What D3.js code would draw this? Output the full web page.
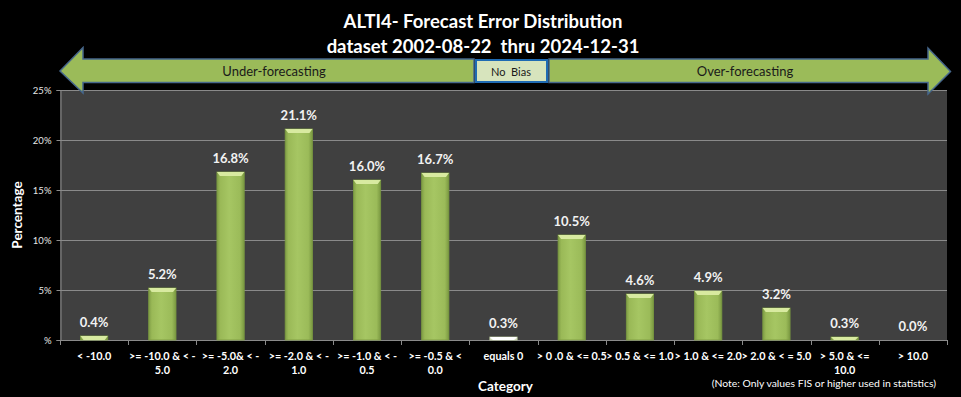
<!DOCTYPE html>
<html>
<head>
<meta charset="utf-8">
<script src="https://cdn.jsdelivr.net/npm/d3@7"></script>
<style>
  html, body { margin: 0; padding: 0; background: #000; }
  svg { display: block; }
  text { font-family: Lato, "Open Sans", sans-serif; }
</style>
</head>
<body>
<div id="chart"></div>
<script>
// ---- data ----
const categories = [
  "< -10.0",
  ">= -10.0 & < -\n5.0",
  ">= -5.0& < -\n2.0",
  ">= -2.0 & < -\n1.0",
  ">= -1.0 & < -\n0.5",
  ">= -0.5 & <\n0.0",
  "equals 0",
  "> 0 .0 & <= 0.5",
  "> 0.5 & <= 1.0",
  "> 1.0 & <= 2.0",
  "> 2.0 & < = 5.0",
  "> 5.0 & <=\n10.0",
  "> 10.0"
];
const percentages = [0.4, 5.2, 16.8, 21.1, 16.0, 16.7, 0.3, 10.5, 4.6, 4.9, 3.2, 0.3, 0.0];
const yTicks = [0, 5, 10, 15, 20, 25];
const titleLines = ["ALTI4- Forecast Error Distribution", "dataset 2002-08-22  thru 2024-12-31"];
const yAxisTitle = "Percentage";
const xAxisTitle = "Category";
const noteText = "(Note: Only values FIS or higher used in statistics)";
const bandLabels = ["Under-forecasting", "No  Bias", "Over-forecasting"];

// ---- layout ----
const W = 961, H = 397;
const plot = { left: 60, right: 947, top: 90, bottom: 340 };

const svg = d3.select("#chart").append("svg")
  .attr("width", W).attr("height", H)
  .style("background", "#000");

const defs = svg.append("defs");
const grad = defs.append("linearGradient").attr("id", "barGrad")
  .attr("x1", "0").attr("x2", "1").attr("y1", "0").attr("y2", "0");
[["0%", "#7f9d45"], ["12%", "#9ab957"], ["45%", "#a6c663"], ["85%", "#9bbb59"], ["100%", "#7a9841"]]
  .forEach(([o, c]) => grad.append("stop").attr("offset", o).attr("stop-color", c));
const gradW = defs.append("linearGradient").attr("id", "barGradW")
  .attr("x1", "0").attr("x2", "1").attr("y1", "0").attr("y2", "0");
[["0%", "#e4ead2"], ["45%", "#fbfcf6"], ["100%", "#e0e8cc"]]
  .forEach(([o, c]) => gradW.append("stop").attr("offset", o).attr("stop-color", c));

// scales
const xSlot = d3.scaleBand().domain(categories).range([plot.left, plot.right]).padding(0);
const x = d3.scaleBand().domain(categories).range([plot.left, plot.right])
  .paddingInner(0.6).paddingOuter(0.3);
const y = d3.scaleLinear().domain([0, 25]).range([plot.bottom, plot.top]);

// plot background
svg.append("rect")
  .attr("x", plot.left).attr("y", plot.top)
  .attr("width", plot.right - plot.left).attr("height", plot.bottom - plot.top)
  .attr("fill", "#404040");

// gridlines
svg.append("g").selectAll("line").data(yTicks.filter(d => d > 0)).join("line")
  .attr("x1", plot.left).attr("x2", plot.right)
  .attr("y1", d => y(d) + 0.5).attr("y2", d => y(d) + 0.5)
  .attr("stroke", "#8a8a8a").attr("stroke-width", 1);

// y axis
const yAxis = svg.append("g").attr("transform", `translate(${plot.left + 0.5},0)`)
  .call(d3.axisLeft(y).tickValues(yTicks).tickSize(4).tickPadding(5)
    .tickFormat(d => d === 0 ? "%" : d + "%"));
yAxis.select(".domain").attr("stroke", "#8a8a8a");
yAxis.selectAll(".tick line").attr("stroke", "#8a8a8a");
yAxis.selectAll(".tick text").attr("fill", "#e6e6e6").style("font-size", "9.5px");

// x axis line and ticks between categories
svg.append("line")
  .attr("x1", plot.left).attr("x2", plot.right)
  .attr("y1", plot.bottom + 0.5).attr("y2", plot.bottom + 0.5)
  .attr("stroke", "#8a8a8a");
const boundaries = categories.map(c => xSlot(c)).concat([plot.right]);
svg.append("g").selectAll("line").data(boundaries).join("line")
  .attr("x1", d => Math.round(d) + 0.5).attr("x2", d => Math.round(d) + 0.5)
  .attr("y1", plot.bottom).attr("y2", plot.bottom + 5)
  .attr("stroke", "#8a8a8a");

// x labels
const xAxis = svg.append("g").attr("transform", `translate(0,${plot.bottom})`)
  .call(d3.axisBottom(xSlot).tickSize(0).tickFormat(""));
xAxis.select(".domain").remove();
xAxis.selectAll(".tick").each(function(d) {
  const t = d3.select(this).append("text")
    .attr("fill", "#ffffff")
    .attr("text-anchor", "middle")
    .style("font-size", "10.8px").style("font-weight", "bold")
    .attr("xml:space", "preserve");
  d.split("\n").forEach((line, i) => {
    t.append("tspan").attr("x", 0).attr("y", 19.5 + i * 14.5).text(line);
  });
});

// bars
const bars = svg.append("g");
bars.selectAll("rect.bar").data(percentages).join("rect")
  .attr("class", "bar")
  .attr("x", (d, i) => x(categories[i]))
  .attr("y", d => y(d))
  .attr("width", x.bandwidth())
  .attr("height", d => y(0) - y(d))
  .attr("fill", (d, i) => categories[i] === "equals 0" ? "url(#barGradW)" : "url(#barGrad)")
  .attr("stroke", (d, i) => categories[i] === "equals 0" ? "#b8c79a" : "#7a9a40")
  .attr("stroke-width", 0.8)
  .style("display", d => d > 0 ? null : "none");
// top bevel highlight
bars.selectAll("path.bevel").data(percentages).join("path")
  .attr("class", "bevel")
  .attr("d", (d, i) => {
    const x0 = x(categories[i]), w = x.bandwidth(), y0 = y(d);
    const h = Math.min(4, y(0) - y0);
    return `M${x0},${y0}L${x0 + w},${y0}L${x0 + w - 3},${y0 + h}L${x0 + 3},${y0 + h}Z`;
  })
  .attr("fill", (d, i) => categories[i] === "equals 0" ? "#ffffff" : "#d8eaa0")
  .style("display", d => d > 0 ? null : "none");

// value labels
svg.append("g").selectAll("text").data(percentages).join("text")
  .attr("x", (d, i) => x(categories[i]) + x.bandwidth() / 2)
  .attr("y", d => y(d) - 9)
  .attr("text-anchor", "middle")
  .attr("fill", "#f2f2f2")
  .style("font-size", "13px").style("font-weight", "bold")
  .text(d => d.toFixed(1) + "%");

// axis titles
svg.append("text")
  .attr("transform", `translate(22,${(plot.top + plot.bottom) / 2}) rotate(-90)`)
  .attr("text-anchor", "middle")
  .attr("fill", "#fff").style("font-size", "13.5px").style("font-weight", "bold")
  .text(yAxisTitle);
svg.append("text")
  .attr("x", 505.5).attr("y", 391)
  .attr("text-anchor", "middle")
  .attr("fill", "#fff").style("font-size", "13.5px").style("font-weight", "bold")
  .text(xAxisTitle);
svg.append("text")
  .attr("x", 936).attr("y", 386.5)
  .attr("text-anchor", "end")
  .attr("fill", "#fff").style("font-size", "10.4px")
  .text(noteText);

// title
svg.append("g").selectAll("text").data(titleLines).join("text")
  .attr("x", 483).attr("y", (d, i) => 28 + i * 25)
  .attr("text-anchor", "middle")
  .attr("fill", "#fff").style("font-size", "18.5px").style("font-weight", "bold")
  .attr("xml:space", "preserve")
  .text(d => d);

// double arrow banner
const arrowFill = "#9bbb59", arrowStroke = "#46678c";
svg.append("path")
  .attr("d", "M60,71 L83,47.5 L83,59 L474,59 L474,82.5 L83,82.5 L83,93 Z")
  .attr("fill", arrowFill).attr("stroke", arrowStroke).attr("stroke-width", 1.5);
svg.append("path")
  .attr("d", "M950.5,71.5 L928,48 L928,59 L549,59 L549,82.5 L928,82.5 L928,94 Z")
  .attr("fill", arrowFill).attr("stroke", arrowStroke).attr("stroke-width", 1.5);
svg.append("rect")
  .attr("x", 476).attr("y", 60).attr("width", 71).attr("height", 22)
  .attr("fill", "#d7e4bd").attr("stroke", "#1f6bb3").attr("stroke-width", 2);
const bandX = [274, 511, 745];
svg.append("g").selectAll("text").data(bandLabels).join("text")
  .attr("x", (d, i) => bandX[i]).attr("y", 76)
  .attr("text-anchor", "middle")
  .attr("fill", "#1a1a1a")
  .style("font-size", (d, i) => i === 1 ? "11px" : "13px")
  .attr("xml:space", "preserve")
  .text(d => d);
</script>
</body>
</html>
